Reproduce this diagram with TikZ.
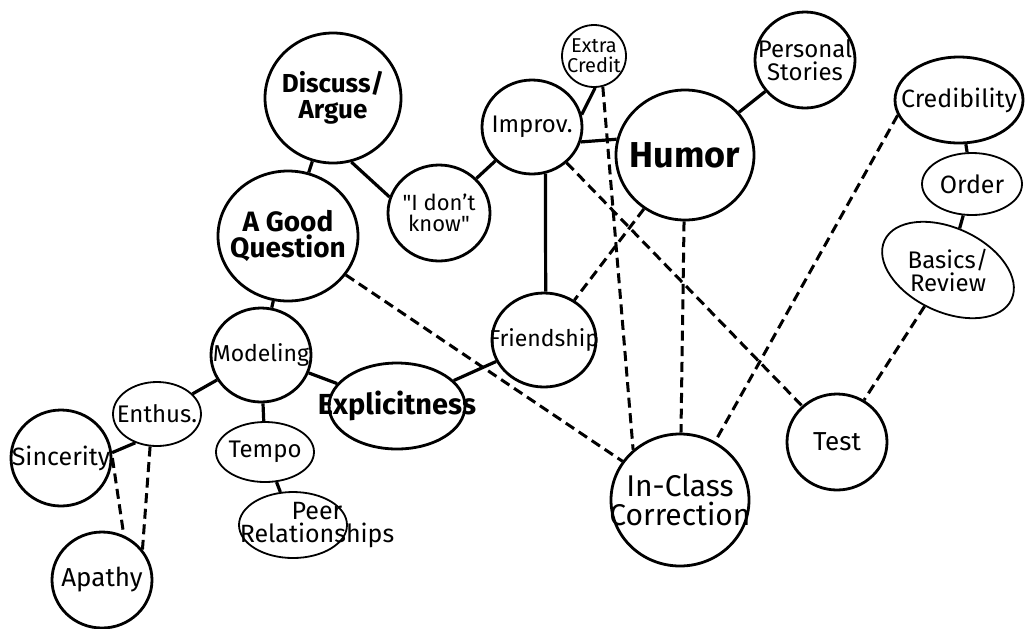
\documentclass[tikz,border=0pt]{standalone}
\usepackage{fontspec}
\setmainfont{Fira Sans}
\usepackage{color}
\usepackage{tikz}
\usetikzlibrary{shapes.geometric}
\pgfdeclarelayer{edgelayer}
\pgfdeclarelayer{nodelayer}
\pgfsetlayers{edgelayer,nodelayer,main}
\definecolor{myblack}{rgb}{0.000,0.000,0.000}
\definecolor{mywhite}{rgb}{1.000,1.000,1.000}
\tikzstyle{thickBubble}=[ellipse,fill=mywhite,draw=myblack,line width=1.4pt,inner sep=0pt]
\tikzstyle{thinBubble}=[ellipse,fill=mywhite,draw=myblack,line width=0.9pt,inner sep=0pt]
\tikzstyle{boldText}=[align=center,anchor=center,inner sep=0pt,font=\bfseries\fontsize{14}{13}\selectfont]
\tikzstyle{plainText}=[align=center,anchor=center,inner sep=0pt,font=\fontsize{12}{11.5}\selectfont]
\tikzstyle{link}=[draw=myblack,line width=1.6pt]
\tikzstyle{weakLink}=[draw=myblack,line width=1.5pt,dash pattern=on 5pt off 2.8pt]

\begin{document}
\begin{tikzpicture}[x=0.5pt,y=-0.5pt]
	\useasboundingbox (0,0) rectangle (1027,628);
	\begin{pgfonlayer}{nodelayer}
		\node [style=thickBubble, minimum width=68pt, minimum height=65pt, label={[style=boldText, font=\bfseries\fontsize{13}{13}\selectfont]center:Discuss/\\Argue}] (discuss) at (333, 98) {};
		\node [style=thickBubble, minimum width=70pt, minimum height=65pt, label={[style=boldText]center:A Good\\Question}] (question) at (288, 236) {};
		\node [style=thickBubble, minimum width=51pt, minimum height=48pt, label={[style=plainText, font=\fontsize{11}{10.5}\selectfont]center:\textquotedbl I don't\\know\textquotedbl}] (dontknow) at (439, 213) {};
		\node [style=thickBubble, minimum width=50pt, minimum height=47pt, label={[style=plainText]center:Improv.}] (improv) at (532, 127) {};
		\node [style=thinBubble, minimum width=32pt, minimum height=31pt, label={[style=plainText, font=\fontsize{10}{10}\selectfont]center:Extra\\Credit}] (extra) at (594, 56) {};
		\node [style=thickBubble, minimum width=69pt, minimum height=65pt, label={[style=boldText, font=\bfseries\fontsize{18}{18}\selectfont]center:Humor}] (humor) at (685, 155) {};
		\node [style=thickBubble, minimum width=50pt, minimum height=48pt, label={[style=plainText]center:Personal\\Stories}] (stories) at (805, 60) {};
		\node [style=thickBubble, minimum width=64pt, minimum height=43pt, label={[style=plainText, font=\fontsize{12.5}{12}\selectfont]center:Credibility}] (cred) at (959, 100) {};
		\node [style=thinBubble, minimum width=50pt, minimum height=31pt, label={[style=plainText, font=\fontsize{12.5}{12}\selectfont]center:Order}] (order) at (972, 184) {};
		\node [style=thinBubble, minimum width=70pt, minimum height=42pt, rotate=-25, label={[style=plainText]center:Basics/\\Review}] (basics) at (948, 270) {};
		\node [style=thickBubble, minimum width=52pt, minimum height=47pt, label={[style=plainText, font=\fontsize{11.5}{11}\selectfont]center:Friendship}] (friend) at (544, 340) {};
		\node [style=thickBubble, minimum width=50pt, minimum height=48pt, label={[style=plainText, font=\fontsize{13}{12}\selectfont]center:Test}] (test) at (837, 442) {};
		\node [style=thickBubble, minimum width=69pt, minimum height=66pt, label={[style=plainText, font=\fontsize{15}{14.5}\selectfont]center:In-Class\\Correction}] (correct) at (680, 500) {};
		\node [style=thickBubble, minimum width=50pt, minimum height=47pt, label={[style=plainText, font=\fontsize{11.5}{11}\selectfont]center:Modeling}] (model) at (261, 355) {};
		\node [style=thinBubble, minimum width=44pt, minimum height=32pt, label={[style=plainText]center:Enthus.}] (enthus) at (157, 414) {};
		\node [style=thickBubble, minimum width=50pt, minimum height=48pt, label={[style=plainText, font=\fontsize{12.5}{12}\selectfont]center:Sincerity}] (sincere) at (61, 458) {};
		\node [style=thickBubble, minimum width=50pt, minimum height=48pt, label={[style=plainText, font=\fontsize{13}{12}\selectfont]center:Apathy}] (apathy) at (102, 580) {};
		\node [style=thinBubble, minimum width=49pt, minimum height=30pt, label={[style=plainText]center:Tempo}] (tempo) at (265, 452) {};
		\node [style=thinBubble, minimum width=54pt, minimum height=33pt, label={[style=plainText, font=\fontsize{12.5}{11.5}\selectfont, xshift=12pt]center:Peer\\Relationships}] (peer) at (293, 525) {};
		\node [style=thickBubble, minimum width=68pt, minimum height=43pt, label={[style=boldText, font=\bfseries\fontsize{14.5}{14}\selectfont]center:Explicitness}] (explicit) at (397, 406) {};
	\end{pgfonlayer}
	\begin{pgfonlayer}{edgelayer}
		\draw [style=link] (discuss) to (question);
		\draw [style=link] (discuss.286) to (dontknow.162);
		\draw [style=link] (dontknow) to (improv);
		\draw [style=link] (improv.14) to (extra.272);
		\draw [style=link] (improv.343) to (humor.167);
		\draw [style=link] (improv.286) to (friend.88);
		\draw [style=link] (humor) to (stories);
		\draw [style=link] (cred) to (order);
		\draw [style=link] (order) to (basics);
		\draw [style=link] (question) to (model);
		\draw [style=link] (model) to (enthus);
		\draw [style=link] (model) to (tempo);
		\draw [style=link] (model) to (explicit);
		\draw [style=link] (enthus.233) to (sincere.6);
		\draw [style=link] (tempo) to (peer);
		\draw [style=link] (explicit) to (friend);
		\draw [style=weakLink] (question) to (correct);
		\draw [style=weakLink] (extra.286) to (correct.133);
		\draw [style=weakLink] (humor) to (correct);
		\draw [style=weakLink] (humor) to (friend);
		\draw [style=weakLink] (improv) to (test);
		\draw [style=weakLink] (cred.194) to (correct.59);
		\draw [style=weakLink] (basics) to (test);
		\draw [style=weakLink] (sincere.east) to (apathy.64);
		\draw [style=weakLink] (enthus.258) to (apathy.37);
	\end{pgfonlayer}
\end{tikzpicture}
\end{document}
